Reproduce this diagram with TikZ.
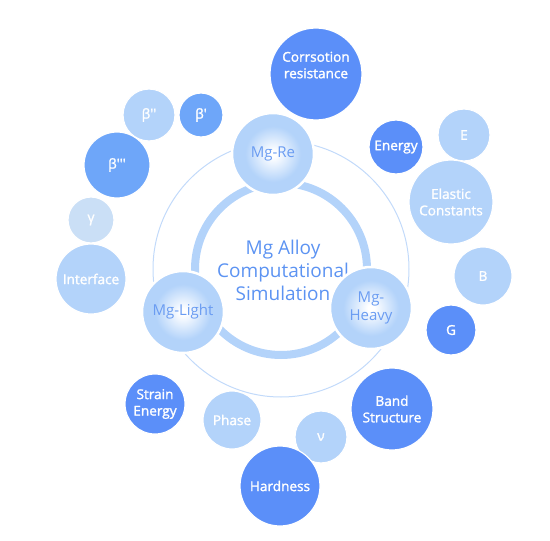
\documentclass[tikz,border=0pt]{standalone}
\usepackage{fontspec}
\setmainfont{Open Sans}
\newfontfamily\labfont{Open Sans}[FakeBold=1.6]
\definecolor{dk}{HTML}{5B8FF9}
\definecolor{md}{HTML}{6EA6F9}
\definecolor{lt}{HTML}{B3D3FA}
\definecolor{vlt}{HTML}{CADFF6}
\definecolor{thinring}{HTML}{C2DAFA}
\definecolor{txt}{HTML}{5C93F2}
\definecolor{mgtxt}{HTML}{6A9CF2}
\pgfdeclareradialshading{glow}{\pgfpoint{0bp}{0bp}}{color(0bp)=(white); color(2bp)=(white); color(17bp)=(lt); color(50bp)=(lt)}
\tikzset{
  bub/.style={circle, draw=white, line width=1.2pt, inner sep=0pt, text=white,
    align=center, font=\labfont\fontsize{13.6}{16.5}\selectfont, minimum size=#1},
  mgbub/.style={circle, draw=white, line width=2.5pt, inner sep=0pt, text=mgtxt,
    align=center, font=\fontsize{15}{18}\selectfont, minimum size=#1, shading=glow},
}
\begin{document}
\begin{tikzpicture}[x=1pt,y=-1pt]
\useasboundingbox (0,0) rectangle (550,541);
\coordinate (c) at (281,269);
\draw[thinring, line width=1pt] (c) circle[radius=128pt];
\draw[lt, line width=8pt] (c) circle[radius=86pt];
\node[text=txt, align=center, font=\fontsize{19}{23}\selectfont] (ctr) at (283,270) {Mg Alloy\\Computational\\Simulation};
\node[mgbub=82pt] (re) at (273,154) {Mg-Re};
\node[mgbub=82pt] (light) at (183,312) {Mg-Light};
\node[mgbub=82pt] (heavy) at (371,308) {Mg-\\Heavy};
% outer bubbles
\node[bub=92pt, fill=dk, text depth=18pt] (cr) at (316,74) {Corrsotion\\resistance};
\node[bub=52pt, fill=lt] (b2) at (149,115) {β''};
\node[bub=44pt, fill=md] (b1) at (201,115) {β'};
\node[bub=66pt, fill=md] (b3) at (117,165) {β'''};
\node[bub=46pt, fill=vlt] (gam) at (91,220) {γ};
\node[bub=70pt, fill=lt] (intf) at (91,279) {Interface};
\node[bub=54pt, fill=dk] (en) at (396,147) {Energy};
\node[bub=52pt, fill=lt] (e) at (464,135) {E};
\node[bub=84pt, fill=lt] (el) at (451,202) {Elastic\\Constants};
\node[bub=58pt, fill=lt] (b) at (483,276) {B};
\node[bub=50pt, fill=dk] (g) at (451,330) {G};
\node[bub=60pt, fill=dk] (se) at (155,404) {Strain\\Energy};
\node[bub=58pt, fill=lt] (ph) at (232,420) {Phase};
\node[bub=52pt, fill=lt] (nu) at (321,437) {ν};
\node[bub=82pt, fill=dk] (bs) at (392,409) {Band\\Structure};
\node[bub=80pt, fill=dk] (hd) at (280,486) {Hardness};
\end{tikzpicture}
\end{document}
